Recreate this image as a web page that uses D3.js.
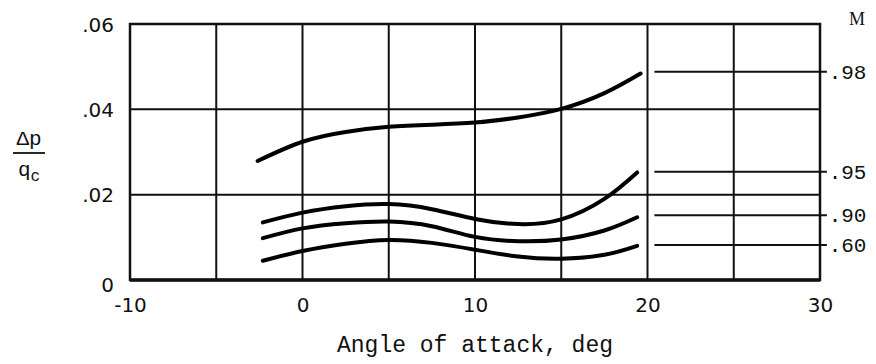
<!DOCTYPE html>
<html>
<head>
<meta charset="utf-8">
<script src="https://cdn.jsdelivr.net/npm/d3@7"></script>
<style>
  html, body { margin: 0; padding: 0; background: #fff; }
  svg { display: block; }
  .tick-label { font-family: "DejaVu Sans", "Liberation Sans", sans-serif; fill: #111; }
  .mono { font-family: "Liberation Mono", "DejaVu Sans Mono", monospace; fill: #111; }
</style>
</head>
<body>
<svg id="chart" width="876" height="364"></svg>
<script>
// Pressure coefficient increment vs. angle of attack, one curve per Mach number
const machLabels = [".98", ".95", ".90", ".60"];
const anglesM98 = [-2.6, 0, 2.5, 5, 7.5, 10, 12.5, 15, 17.5, 19.6];
const anglesLow = [-2.3, 0, 2.5, 5, 7.5, 10, 12.5, 15, 17.5, 19.4];
const dpM98 = [0.0279, 0.0324, 0.0347, 0.0359, 0.0364, 0.0369, 0.0381, 0.0401, 0.0438, 0.0484];
const dpM95 = [0.0135, 0.0158, 0.0173, 0.0178, 0.0166, 0.0143, 0.0131, 0.0142, 0.0190, 0.0252];
const dpM90 = [0.0098, 0.0121, 0.0133, 0.0137, 0.0126, 0.0101, 0.0091, 0.0095, 0.0116, 0.0147];
const dpM60 = [0.0045, 0.0068, 0.0085, 0.0094, 0.0087, 0.0071, 0.0055, 0.0050, 0.0059, 0.0080];
// key leader-line levels, one per Mach number
const keyLevels = [0.0488, 0.0254, 0.0152, 0.0082];
const xTicks = [-10, 0, 10, 20, 30];
const yTicks = [0, 0.02, 0.04, 0.06];
const xGrid = [-10, -5, 0, 5, 10, 15, 20, 25, 30];

const series = [
  { angles: anglesM98, values: dpM98 },
  { angles: anglesLow, values: dpM95 },
  { angles: anglesLow, values: dpM90 },
  { angles: anglesLow, values: dpM60 }
];

const svg = d3.select("#chart");
const plotLeft = 130, plotRight = 820, plotTop = 24, plotBottom = 280;

const x = d3.scaleLinear().domain([-10, 30]).range([plotLeft, plotRight]);
const y = d3.scaleLinear().domain([0, 0.06]).range([plotBottom, plotTop]);

// grid lines
const grid = svg.append("g").attr("stroke", "#111").attr("stroke-width", 2);
grid.selectAll("line.v").data(xGrid).join("line").attr("class", "v")
  .attr("x1", d => x(d)).attr("x2", d => x(d))
  .attr("y1", y(0)).attr("y2", y(0.06));
grid.selectAll("line.h").data(yTicks).join("line").attr("class", "h")
  .attr("x1", x(-10)).attr("x2", x(30))
  .attr("y1", d => y(d)).attr("y2", d => y(d));

// heavier frame
svg.append("rect")
  .attr("x", x(-10)).attr("y", y(0.06))
  .attr("width", x(30) - x(-10)).attr("height", y(0) - y(0.06))
  .attr("fill", "none").attr("stroke", "#111").attr("stroke-width", 2.5);
svg.append("line")
  .attr("x1", x(-10)).attr("x2", x(30)).attr("y1", y(0)).attr("y2", y(0))
  .attr("stroke", "#111").attr("stroke-width", 3.5);

// x axis labels
const xAxis = d3.axisBottom(x).tickValues(xTicks).tickSize(0)
  .tickFormat(d => d < 0 ? "-" + Math.abs(d) : String(d));
const gx = svg.append("g").attr("transform", `translate(0,${plotBottom})`).call(xAxis);
gx.select(".domain").remove();
gx.selectAll("text").attr("class", "tick-label").attr("font-size", 20)
  .attr("y", 32).attr("dy", 0);

// y axis labels
const yAxis = d3.axisLeft(y).tickValues(yTicks).tickSize(0).tickPadding(16)
  .tickFormat(d => d === 0 ? "0" : d3.format(".2f")(d).replace(/^0/, ""));
const gy = svg.append("g").attr("transform", `translate(${plotLeft},0)`).call(yAxis);
gy.select(".domain").remove();
gy.selectAll("text").attr("class", "tick-label").attr("font-size", 20)
  .attr("dy", d => d === 0 ? "0.55em" : "0.35em");

// curves
const line = d3.line()
  .x(d => x(d[0])).y(d => y(d[1]))
  .curve(d3.curveNatural);
svg.append("g").selectAll("path").data(series).join("path")
  .attr("d", s => line(s.angles.map((a, i) => [a, s.values[i]])))
  .attr("fill", "none").attr("stroke", "#000")
  .attr("stroke-width", 4).attr("stroke-linecap", "round");

// Mach key with leader lines
const key = svg.append("g");
key.selectAll("line").data(keyLevels).join("line")
  .attr("x1", x(20.4)).attr("x2", x(30.4))
  .attr("y1", d => y(d)).attr("y2", d => y(d))
  .attr("stroke", "#111").attr("stroke-width", 2);
key.selectAll("text").data(keyLevels).join("text")
  .attr("class", "mono").attr("font-size", 21)
  .attr("x", x(30.5)).attr("y", d => y(d)).attr("dy", "0.35em")
  .text((d, i) => machLabels[i]);
svg.append("text").attr("font-family", "Liberation Serif, serif").attr("fill", "#111")
  .attr("font-size", 18)
  .attr("x", 857).attr("y", 25).attr("text-anchor", "middle").text("M");

// axis titles
svg.append("text").attr("class", "mono").attr("font-size", 23)
  .attr("x", (plotLeft + plotRight) / 2).attr("y", 352).attr("text-anchor", "middle")
  .text("Angle of attack, deg");

const yt = svg.append("g").attr("transform", "translate(29,0)");
yt.append("text").attr("class", "mono").attr("font-size", 21)
  .attr("y", 145).attr("text-anchor", "middle").text("\u0394p");
yt.append("line").attr("x1", -16).attr("x2", 16).attr("y1", 153).attr("y2", 153)
  .attr("stroke", "#111").attr("stroke-width", 1.8);
const qc = yt.append("text").attr("class", "mono").attr("font-size", 21)
  .attr("y", 176).attr("text-anchor", "middle");
qc.append("tspan").text("q");
qc.append("tspan").attr("font-size", 16).attr("dy", 5).text("c");
</script>
</body>
</html>
